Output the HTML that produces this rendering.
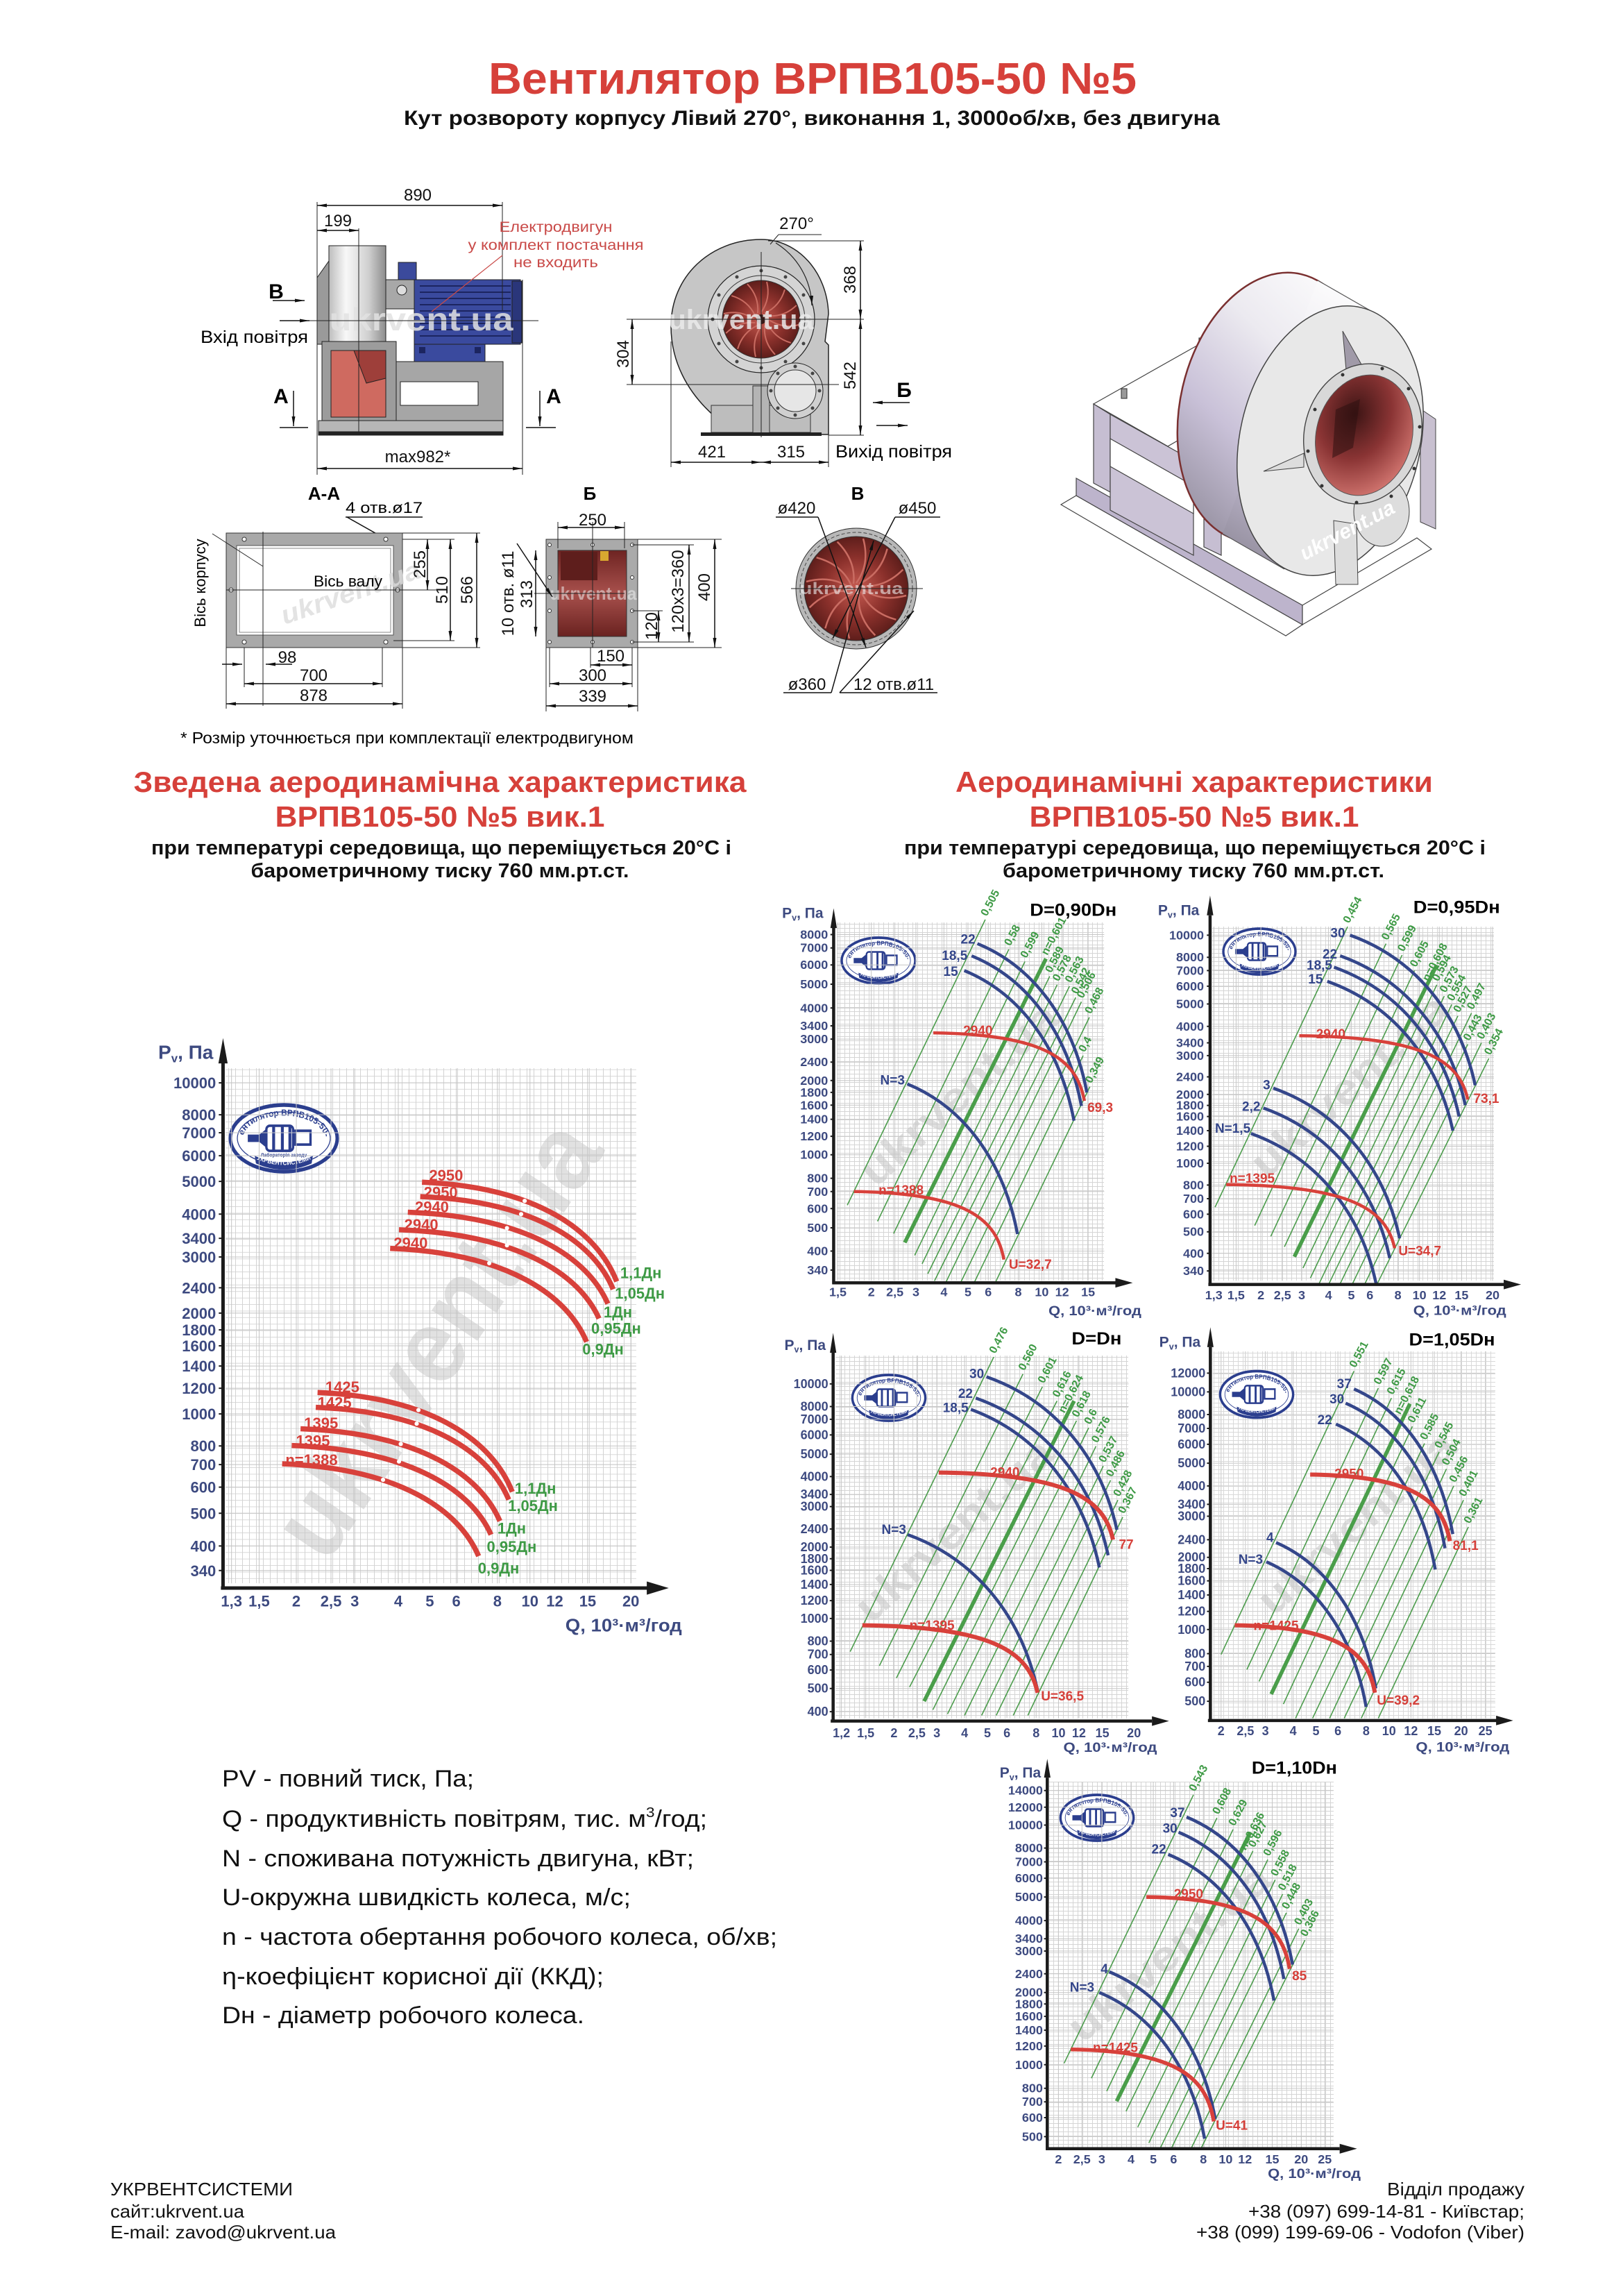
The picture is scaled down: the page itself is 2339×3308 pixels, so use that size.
<!DOCTYPE html>
<html><head><meta charset="utf-8"><title>Вентилятор ВРПВ105-50 №5</title>
<style>
html,body{margin:0;padding:0;background:#fff}
svg{display:block;font-family:"Liberation Sans","DejaVu Sans",sans-serif}
.ns{vector-effect:non-scaling-stroke;fill:none}
.yt{fill:#3d4a80;font-weight:bold;text-anchor:end}
.xt{fill:#3d4a80;font-weight:bold;text-anchor:middle}
.ax{fill:#3d4a80;font-weight:bold}
.rd{fill:#d6403a;font-weight:bold}
.gn{fill:#3e9a45;font-weight:bold}
.bu{fill:#34468a;font-weight:bold;text-anchor:end}
.dm{font-size:24px;fill:#111;text-anchor:middle}
.dl{stroke:#111;stroke-width:1.5;fill:none}
.th{stroke:#222;stroke-width:1;fill:none}
.hd{fill:#d6403a;font-weight:bold;text-anchor:middle}
.sb{fill:#111;font-weight:bold;text-anchor:middle}
</style></head><body>
<svg width="2339" height="3308" viewBox="0 0 2339 3308" xmlns="http://www.w3.org/2000/svg">
<defs>
<marker id="ar" viewBox="0 0 14 5" refX="14" refY="2.5" markerWidth="14" markerHeight="5" orient="auto-start-reverse" markerUnits="userSpaceOnUse"><path d="M0 0L14 2.5L0 5z" fill="#111"/></marker>
<pattern id="gL" width="10" height="9.4" patternUnits="userSpaceOnUse"><path d="M9.5 0V9.4M0 9H10" stroke="#d3d3d3" stroke-width="1" fill="none"/></pattern>
<pattern id="gR" width="7" height="6" patternUnits="userSpaceOnUse"><path d="M6.5 0V6M0 5.5H7" stroke="#d5d5d5" stroke-width="1" fill="none"/></pattern>
<linearGradient id="drumG" x1="0" y1="0" x2="1" y2="0"><stop offset="0" stop-color="#bdbdbd"/><stop offset=".3" stop-color="#f8f8f8"/><stop offset=".7" stop-color="#cfcfcf"/><stop offset="1" stop-color="#8d8d8d"/></linearGradient>
<radialGradient id="impG"><stop offset="0" stop-color="#c85c52"/><stop offset=".6" stop-color="#8a302b"/><stop offset="1" stop-color="#5e1e1b"/></radialGradient>
<linearGradient id="redB" x1="0" y1="0" x2="0" y2="1"><stop offset="0" stop-color="#6e2422"/><stop offset=".5" stop-color="#a8504c"/><stop offset="1" stop-color="#6a2220"/></linearGradient>
<linearGradient id="isoD" gradientUnits="userSpaceOnUse" x1="1990" y1="420" x2="1760" y2="800"><stop offset="0" stop-color="#ffffff"/><stop offset=".35" stop-color="#eceaf0"/><stop offset=".65" stop-color="#c9c1d8"/><stop offset="1" stop-color="#8f8a99"/></linearGradient>
<radialGradient id="isoR" cx=".35" cy=".35" r=".75"><stop offset="0" stop-color="#3c1414"/><stop offset=".5" stop-color="#8a3434"/><stop offset="1" stop-color="#d77a74"/></radialGradient>
<path id="stTop" d="M-70 0 A70 36 0 0 1 70 0"/>
<path id="stBot" d="M-48 33 Q0 52 48 33"/>
</defs>
<rect width="2339" height="3308" fill="#fff"/>

<!-- TITLE -->
<text x="1171" y="135" class="hd" font-size="64" textLength="934" lengthAdjust="spacingAndGlyphs">Вентилятор ВРПВ105-50 №5</text>
<text x="1170" y="180" class="sb" font-size="30" textLength="1176" lengthAdjust="spacingAndGlyphs">Кут розвороту корпусу Лівий 270°, виконання 1, 3000об/хв, без двигуна</text>

<!-- SIDE VIEW -->
<g stroke="#222" stroke-width="1">
<polygon points="457,496 457,400 474,376 474,496" fill="#9a9a9a"/>
<rect x="474" y="354" width="82" height="142" fill="url(#drumG)"/>
<rect x="556" y="403" width="46" height="42" fill="#a8a8a8"/>
<circle cx="579" cy="418" r="7" fill="#ddd"/>
<rect x="574" y="378" width="26" height="25" fill="#3b4a9c"/>
<rect x="597" y="403" width="153" height="93" fill="#3a4a9e"/>
<rect x="738" y="405" width="14" height="89" fill="#2a367a"/>
<rect x="597" y="496" width="102" height="25" fill="#3a4a9e"/>
<rect x="464" y="492" width="107" height="116" fill="#9c9c9c"/>
<rect x="477" y="505" width="79" height="96" fill="#cf6a60"/>
<polygon points="510,505 556,505 556,545 528,552" fill="#9e3f3a"/>
<rect x="571" y="521" width="154" height="85" fill="#a6a6a6"/>
<rect x="577" y="550" width="112" height="34" fill="#fff"/>
<rect x="459" y="606" width="266" height="20" fill="#b6b6b6"/>
<rect x="459" y="622" width="266" height="5" fill="#222"/>
</g>
<path d="M605 412H736M605 421H736M605 430H736M605 439H736M605 448H736M605 457H736M605 466H736M605 475H736M605 484H736" stroke="#1c2560" stroke-width="2"/>
<rect x="604" y="500" width="9" height="9" fill="#1c2560"/><rect x="684" y="500" width="9" height="9" fill="#1c2560"/>
<text x="607" y="476" font-size="46" font-weight="bold" fill="#e2e2e2" fill-opacity=".85" text-anchor="middle" textLength="265" lengthAdjust="spacingAndGlyphs">ukrvent.ua</text>
<path class="th" d="M457 291V684M724 291V447M753 403V684M517 329V626M418 462H776"/>
<path class="dl" marker-start="url(#ar)" marker-end="url(#ar)" d="M457 296H724"/>
<path class="dl" marker-start="url(#ar)" marker-end="url(#ar)" d="M457 332H517"/>
<path class="dl" marker-start="url(#ar)" marker-end="url(#ar)" d="M457 675H753"/>
<text x="602" y="289" class="dm">890</text>
<text x="487" y="326" class="dm">199</text>
<text x="602" y="666" class="dm">max982*</text>
<g fill="#c94a48" font-size="21" text-anchor="middle">
<text x="801" y="334" textLength="163" lengthAdjust="spacingAndGlyphs">Електродвигун</text>
<text x="801" y="360" textLength="253" lengthAdjust="spacingAndGlyphs">у комплект постачання</text>
<text x="801" y="385" textLength="122" lengthAdjust="spacingAndGlyphs">не входить</text>
</g>
<path d="M724 368L622 449" stroke="#c94a48" stroke-width="1.2"/>
<text x="398" y="430" font-size="30" font-weight="bold" text-anchor="middle">В</text>
<path class="dl" marker-end="url(#ar)" d="M393 433H439"/>
<path class="dl" marker-end="url(#ar)" d="M403 462H446"/>
<text x="289" y="494" font-size="25" textLength="155" lengthAdjust="spacingAndGlyphs">Вхід повітря</text>
<text x="405" y="581" font-size="30" font-weight="bold" text-anchor="middle">А</text>
<text x="798" y="581" font-size="30" font-weight="bold" text-anchor="middle">А</text>
<path class="dl" marker-end="url(#ar)" d="M423 563V614"/>
<path class="dl" marker-end="url(#ar)" d="M778 563V614"/>
<path class="dl" d="M403 616H444M758 616H801"/>

<!-- FRONT VIEW -->
<path d="M1097,345 C1150,345 1192,392 1194,452 L1189,492 L1194,497 L1194,626 L1036,626 L1030,600 C990,565 967,520 967,470 C967,397 1025,345 1097,345 Z" fill="#c6c6c6" stroke="#222" stroke-width="1.5"/>
<rect x="1025" y="584" width="143" height="39" fill="#bdbdbd" stroke="#333"/>
<circle cx="1097" cy="460" r="77" fill="#d4d4d4" stroke="#222" stroke-width="1.2"/>
<circle cx="1097" cy="460" r="63" fill="none" stroke="#333"/>
<g fill="#444"><circle cx="1097" cy="390" r="2.5"/><circle cx="1132" cy="399" r="2.5"/><circle cx="1158" cy="425" r="2.5"/><circle cx="1167" cy="460" r="2.5"/><circle cx="1158" cy="495" r="2.5"/><circle cx="1132" cy="521" r="2.5"/><circle cx="1097" cy="530" r="2.5"/><circle cx="1062" cy="521" r="2.5"/><circle cx="1036" cy="495" r="2.5"/><circle cx="1027" cy="460" r="2.5"/><circle cx="1036" cy="425" r="2.5"/><circle cx="1062" cy="399" r="2.5"/></g>
<circle cx="1097" cy="460" r="56" fill="url(#impG)" stroke="#333"/>
<g transform="translate(1097 460)" stroke="#c96c62" stroke-width="2" fill="none">
<path d="M0-10Q14-30 8-54"/><path d="M0-10Q14-30 8-54" transform="rotate(30)"/><path d="M0-10Q14-30 8-54" transform="rotate(60)"/><path d="M0-10Q14-30 8-54" transform="rotate(90)"/><path d="M0-10Q14-30 8-54" transform="rotate(120)"/><path d="M0-10Q14-30 8-54" transform="rotate(150)"/><path d="M0-10Q14-30 8-54" transform="rotate(180)"/><path d="M0-10Q14-30 8-54" transform="rotate(210)"/><path d="M0-10Q14-30 8-54" transform="rotate(240)"/><path d="M0-10Q14-30 8-54" transform="rotate(270)"/><path d="M0-10Q14-30 8-54" transform="rotate(300)"/><path d="M0-10Q14-30 8-54" transform="rotate(330)"/>
</g>
<circle cx="1097" cy="460" r="7" fill="#3a1a18"/>
<rect x="1085" y="556" width="24" height="68" fill="#b4b4b4" stroke="#333"/>
<circle cx="1146" cy="563" r="40" fill="#d0d0d0" stroke="#222"/>
<circle cx="1146" cy="563" r="30" fill="#e6e6e6" stroke="#333"/>
<g fill="#444"><circle cx="1146" cy="528" r="2.5"/><circle cx="1171" cy="538" r="2.5"/><circle cx="1181" cy="563" r="2.5"/><circle cx="1171" cy="588" r="2.5"/><circle cx="1146" cy="598" r="2.5"/><circle cx="1121" cy="588" r="2.5"/><circle cx="1111" cy="563" r="2.5"/><circle cx="1121" cy="538" r="2.5"/></g>
<rect x="1010" y="623" width="174" height="5" fill="#222"/>
<path d="M1118 350A110 110 0 0 1 1170 440" stroke="#222" stroke-width="1.2" fill="none" marker-end="url(#ar)"/>
<text x="1068" y="474" font-size="40" font-weight="bold" fill="#eaeaea" fill-opacity=".85" text-anchor="middle" textLength="209" lengthAdjust="spacingAndGlyphs">ukrvent.ua</text>
<path class="th" d="M1097 363V630M903 460H1245M1107 347H1245M903 554H1209M1194 627H1245M967 492V673M1194 627V673M1122 338H1184M1122 338L1110 352"/>
<path class="dl" marker-start="url(#ar)" marker-end="url(#ar)" d="M1240 347V460"/>
<path class="dl" marker-start="url(#ar)" marker-end="url(#ar)" d="M1240 460V627"/>
<path class="dl" marker-start="url(#ar)" marker-end="url(#ar)" d="M911 460V554"/>
<path class="dl" marker-start="url(#ar)" marker-end="url(#ar)" d="M967 666H1097"/>
<path class="dl" marker-start="url(#ar)" marker-end="url(#ar)" d="M1097 666H1194"/>
<text x="1148" y="330" class="dm">270°</text>
<text class="dm" transform="translate(1233 403) rotate(-90)">368</text>
<text class="dm" transform="translate(1233 541) rotate(-90)">542</text>
<text class="dm" transform="translate(906 510) rotate(-90)">304</text>
<text x="1026" y="659" class="dm">421</text>
<text x="1140" y="659" class="dm">315</text>
<text x="1204" y="659" font-size="25" textLength="168" lengthAdjust="spacingAndGlyphs">Вихід повітря</text>
<text x="1303" y="572" font-size="30" font-weight="bold" text-anchor="middle">Б</text>
<path class="dl" marker-end="url(#ar)" d="M1311 580H1258"/>
<path class="dl" marker-end="url(#ar)" d="M1263 613H1308"/>

<!-- ISOMETRIC -->
<g stroke="#444" stroke-width="1.2">
<polygon points="1529,727 1853,916 1877,900 1551,714" fill="#fff"/>
<polygon points="1551,689 1877,872 1877,900 1551,714" fill="#bdb4cc"/>
<polygon points="1877,872 2042,775 2063,791 1877,900" fill="#fff"/>
<polygon points="1576,582 1732,494 1839,553 1683,643" fill="#fff"/>
<polygon points="1576,582 1600,597 1600,709 1576,696" fill="#c6bed2"/>
<polygon points="1600,597 1720,664 1720,800 1600,735" fill="#cbc3d6"/>
<polygon points="1600,632 1720,700 1720,740 1600,672" fill="#fff"/>
<polygon points="1735,748 1760,760 1760,800 1735,788" fill="#c6bed2"/>
<rect x="1616" y="560" width="8" height="14" fill="#999"/>
<rect x="1728" y="487" width="8" height="14" fill="#999"/>
</g>
<ellipse cx="1831" cy="587" rx="130" ry="197" transform="rotate(13 1831 587)" fill="url(#isoD)" stroke="#7a3030" stroke-width="2.5"/>
<polygon points="1899,404 1988,455 1851,820 1762,769" fill="url(#isoD)"/>
<path d="M1899 404L1988 455M1762 769L1851 820" stroke="#555" stroke-width="1.2"/>
<polygon points="2047,589 2069,604 2069,762 2047,752" fill="#c8c0d0" stroke="#444"/>
<ellipse cx="1917" cy="635" rx="130" ry="197" transform="rotate(13 1917 635)" fill="#e8e8e8" stroke="#444" stroke-width="1.5"/>
<polygon points="1935,477 1962,525 1940,533" fill="#a09aa8" stroke="#444"/>
<polygon points="1821,679 1879,653 1879,673" fill="#ddd" stroke="#444"/>
<ellipse cx="1991" cy="737" rx="40" ry="50" fill="#ddd" stroke="#444"/>
<polygon points="1922,750 1955,755 1957,842 1925,842" fill="#ddd" stroke="#444"/>
<ellipse cx="1964" cy="625" rx="84" ry="102" transform="rotate(15 1964 625)" fill="#d8d8d8" stroke="#444" stroke-width="1.4"/>
<ellipse cx="1966" cy="627" rx="69" ry="88" transform="rotate(15 1966 627)" fill="url(#isoR)" stroke="#555"/>
<polygon points="1925,590 1960,575 1950,645 1920,660" fill="#2e1010" fill-opacity=".55"/>
<g fill="#333"><circle cx="1992" cy="531" r="2.5"/><circle cx="2030" cy="560" r="2.5"/><circle cx="2046" cy="615" r="2.5"/><circle cx="2038" cy="675" r="2.5"/><circle cx="2005" cy="715" r="2.5"/><circle cx="1955" cy="724" r="2.5"/><circle cx="1905" cy="700" r="2.5"/><circle cx="1885" cy="650" r="2.5"/><circle cx="1895" cy="590" r="2.5"/><circle cx="1935" cy="540" r="2.5"/></g>
<text transform="translate(1880 808) rotate(-28)" font-size="30" font-weight="bold" font-style="italic" fill="#fff" textLength="150" lengthAdjust="spacingAndGlyphs">ukrvent.ua</text>

<!-- SECTION A-A -->
<text x="467" y="720" font-size="26" font-weight="bold" text-anchor="middle">А-А</text>
<text x="498" y="739" font-size="22" textLength="111" lengthAdjust="spacingAndGlyphs">4 отв.ø17</text>
<path class="dl" d="M498 745H609"/>
<path class="dl" marker-end="url(#ar)" d="M500 745L578 789"/>
<rect x="326" y="768" width="254" height="165" fill="#a9a9a9" stroke="#333"/>
<rect x="341" y="786" width="226" height="129" fill="#fff" stroke="#555"/>
<rect x="345" y="790" width="218" height="121" fill="none" stroke="#888"/>
<g fill="#fff" stroke="#333"><circle cx="352" cy="777" r="3"/><circle cx="556" cy="777" r="3"/><circle cx="352" cy="925" r="3"/><circle cx="556" cy="925" r="3"/><circle cx="333" cy="850" r="3"/><circle cx="573" cy="850" r="3"/></g>
<text transform="translate(410 900) rotate(-19)" font-size="38" font-weight="bold" font-style="italic" fill="#dcdcdc" fill-opacity=".8" textLength="210" lengthAdjust="spacingAndGlyphs">ukrvent.ua</text>
<text transform="translate(296 840) rotate(-90)" font-size="22" text-anchor="middle">Вісь корпусу</text>
<path class="th" d="M306 769L379 816M379 766V1017M326 850H628"/>
<text x="452" y="845" font-size="22" textLength="99" lengthAdjust="spacingAndGlyphs">Вісь валу</text>
<path class="th" d="M580 777H655M580 768H692M567 923H655M580 933H692M326 933V1021M352 933V990M551 933V990M580 933V1021"/>
<path class="dl" marker-start="url(#ar)" marker-end="url(#ar)" d="M616 777V850"/>
<path class="dl" marker-start="url(#ar)" marker-end="url(#ar)" d="M649 777V923"/>
<path class="dl" marker-start="url(#ar)" marker-end="url(#ar)" d="M687 768V933"/>
<text class="dm" transform="translate(613 813) rotate(-90)">255</text>
<text class="dm" transform="translate(645 850) rotate(-90)">510</text>
<text class="dm" transform="translate(681 850) rotate(-90)">566</text>
<path class="dl" marker-end="url(#ar)" d="M320 957H349"/>
<path class="dl" marker-end="url(#ar)" d="M421 957H383"/>
<path class="dl" marker-start="url(#ar)" marker-end="url(#ar)" d="M352 985H551"/>
<path class="dl" marker-start="url(#ar)" marker-end="url(#ar)" d="M326 1014H580"/>
<text x="414" y="955" class="dm">98</text>
<text x="452" y="981" class="dm">700</text>
<text x="452" y="1010" class="dm">878</text>

<!-- SECTION Б -->
<text x="850" y="720" font-size="26" font-weight="bold" text-anchor="middle">Б</text>
<rect x="787" y="777" width="132" height="156" fill="#aaa" stroke="#333"/>
<rect x="804" y="793" width="99" height="124" fill="url(#redB)" stroke="#333"/>
<rect x="808" y="795" width="53" height="41" fill="#5e1e1c"/>
<rect x="865" y="794" width="12" height="14" fill="#d9a830"/>
<g fill="#fff" stroke="#333"><circle cx="792" cy="785" r="2.5"/><circle cx="854" cy="785" r="2.5"/><circle cx="911" cy="785" r="2.5"/><circle cx="792" cy="925" r="2.5"/><circle cx="854" cy="925" r="2.5"/><circle cx="911" cy="925" r="2.5"/><circle cx="911" cy="832" r="2.5"/><circle cx="911" cy="880" r="2.5"/><circle cx="792" cy="832" r="2.5"/><circle cx="792" cy="880" r="2.5"/></g>
<text x="855" y="864" font-size="26" font-weight="bold" fill="#eee" fill-opacity=".55" text-anchor="middle" textLength="125" lengthAdjust="spacingAndGlyphs">ukrvent.ua</text>
<path class="th" d="M854 752V933M770 855H900M804 752V790M900 752V790M919 777H1040M911 785H1000M911 925H1000M919 933H1040M911 880H955M787 933V1025M792 933V990M911 933V990M919 933V1025M851 933V962"/>
<path class="dl" marker-end="url(#ar)" d="M745 783L796 860"/>
<text class="dm" font-size="22" transform="translate(740 855) rotate(-90)">10 отв. ø11</text>
<text class="dm" transform="translate(767 856) rotate(-90)">313</text>
<text class="dm" transform="translate(985 852) rotate(-90)">120x3=360</text>
<text class="dm" transform="translate(1023 846) rotate(-90)">400</text>
<text class="dm" transform="translate(947 902) rotate(-90)">120</text>
<path class="dl" marker-start="url(#ar)" marker-end="url(#ar)" d="M804 760H900"/>
<path class="dl" marker-start="url(#ar)" marker-end="url(#ar)" d="M772 793V917"/>
<path class="dl" marker-start="url(#ar)" marker-end="url(#ar)" d="M993 785V925"/>
<path class="dl" marker-start="url(#ar)" marker-end="url(#ar)" d="M1030 777V933"/>
<path class="dl" marker-start="url(#ar)" marker-end="url(#ar)" d="M949 880V925"/>
<path class="dl" marker-start="url(#ar)" marker-end="url(#ar)" d="M851 958H911"/>
<path class="dl" marker-start="url(#ar)" marker-end="url(#ar)" d="M792 985H911"/>
<path class="dl" marker-start="url(#ar)" marker-end="url(#ar)" d="M787 1017H919"/>
<text x="854" y="757" class="dm">250</text>
<text x="880" y="953" class="dm">150</text>
<text x="854" y="981" class="dm">300</text>
<text x="854" y="1011" class="dm">339</text>

<!-- SECTION В -->
<text x="1236" y="720" font-size="26" font-weight="bold" text-anchor="middle">В</text>
<circle cx="1234" cy="848" r="87" fill="#b8b8b8" stroke="#333"/>
<circle cx="1234" cy="848" r="81" fill="none" stroke="#444" stroke-dasharray="5 3"/>
<circle cx="1234" cy="848" r="75" fill="url(#impG)" stroke="#333"/>
<g transform="translate(1234 848)" stroke="#c96c62" stroke-width="2.5" fill="none">
<path d="M0-8Q20-35 10-72"/><path d="M0-8Q20-35 10-72" transform="rotate(30)"/><path d="M0-8Q20-35 10-72" transform="rotate(60)"/><path d="M0-8Q20-35 10-72" transform="rotate(90)"/><path d="M0-8Q20-35 10-72" transform="rotate(120)"/><path d="M0-8Q20-35 10-72" transform="rotate(150)"/><path d="M0-8Q20-35 10-72" transform="rotate(180)"/><path d="M0-8Q20-35 10-72" transform="rotate(210)"/><path d="M0-8Q20-35 10-72" transform="rotate(240)"/><path d="M0-8Q20-35 10-72" transform="rotate(270)"/><path d="M0-8Q20-35 10-72" transform="rotate(300)"/><path d="M0-8Q20-35 10-72" transform="rotate(330)"/>
</g>
<text x="1227" y="856" font-size="24" font-weight="bold" fill="#eee" fill-opacity=".6" text-anchor="middle" textLength="149" lengthAdjust="spacingAndGlyphs">ukrvent.ua</text>
<path class="th" d="M1140 848H1330"/>
<text x="1148" y="740" class="dm">ø420</text>
<text x="1322" y="740" class="dm">ø450</text>
<text x="1163" y="994" class="dm">ø360</text>
<text x="1288" y="994" class="dm">12 отв.ø11</text>
<path class="dl" d="M1118 745H1179M1290 745H1355M1129 998H1198M1210 998H1351"/>
<path class="dl" marker-end="url(#ar)" d="M1179 745L1248 933"/>
<path class="dl" marker-end="url(#ar)" d="M1290 745L1200 920"/>
<path class="dl" marker-end="url(#ar)" d="M1198 998L1259 779"/>
<path class="dl" marker-end="url(#ar)" d="M1210 998L1317 880"/>
<text x="260" y="1071" font-size="23" textLength="653" lengthAdjust="spacingAndGlyphs">* Розмір уточнюється при комплектації електродвигуном</text>

<!-- HEADINGS -->
<text x="634" y="1141" class="hd" font-size="42" textLength="883" lengthAdjust="spacingAndGlyphs">Зведена аеродинамічна характеристика</text>
<text x="634" y="1191" class="hd" font-size="42" textLength="475" lengthAdjust="spacingAndGlyphs">ВРПВ105-50 №5 вик.1</text>
<text x="636" y="1231" class="sb" font-size="29" textLength="836" lengthAdjust="spacingAndGlyphs">при температурі середовища, що переміщується 20°С і</text>
<text x="634" y="1264" class="sb" font-size="29" textLength="545" lengthAdjust="spacingAndGlyphs">барометричному тиску 760 мм.рт.ст.</text>
<text x="1721" y="1141" class="hd" font-size="42" textLength="688" lengthAdjust="spacingAndGlyphs">Аеродинамічні характеристики</text>
<text x="1721" y="1191" class="hd" font-size="42" textLength="475" lengthAdjust="spacingAndGlyphs">ВРПВ105-50 №5 вик.1</text>
<text x="1722" y="1231" class="sb" font-size="29" textLength="838" lengthAdjust="spacingAndGlyphs">при температурі середовища, що переміщується 20°С і</text>
<text x="1720" y="1264" class="sb" font-size="29" textLength="550" lengthAdjust="spacingAndGlyphs">барометричному тиску 760 мм.рт.ст.</text>

<!-- ============ CHART L ============ -->
<rect x="325" y="1539" width="592" height="742" fill="url(#gL)"/>
<text transform="translate(470 2255) rotate(-56)" font-size="150" font-weight="bold" fill="#c8c8c8" fill-opacity=".55" textLength="720" lengthAdjust="spacingAndGlyphs">ukrvent.ua</text>
<g transform="translate(409 1640) scale(.837 .906)">
<ellipse rx="92" ry="53" fill="#fff" stroke="#2b3e8e" stroke-width="6"/>
<ellipse rx="80" ry="42" fill="none" stroke="#2b3e8e" stroke-width="1.5"/>
<text font-size="14" fill="#2b3e8e" font-weight="bold"><textPath href="#stTop" startOffset="50%" text-anchor="middle">Вентилятор ВРПВ105-50-5</textPath></text>
<path d="M-62 -6h20l12-9v30l-12-9h-20z" fill="#2b3e8e"/>
<rect x="-30" y="-20" width="46" height="40" rx="6" fill="#fff" stroke="#2b3e8e" stroke-width="4"/>
<rect x="-20" y="-20" width="5" height="40" fill="#2b3e8e"/><rect x="-5" y="-20" width="5" height="40" fill="#2b3e8e"/><rect x="8" y="-20" width="5" height="40" fill="#2b3e8e"/>
<rect x="20" y="-12" width="26" height="22" fill="#fff" stroke="#2b3e8e" stroke-width="4"/>
<text y="29" font-size="8" fill="#2b3e8e" font-weight="bold" text-anchor="middle">Лабораторія заводу</text>
<path d="M-50 28 Q0 48 50 28 L48 40 Q0 60 -48 40Z" fill="#2b3e8e"/>
<text font-size="10" fill="#fff" font-weight="bold"><textPath href="#stBot" startOffset="50%" text-anchor="middle">УКРВЕНТСИСТЕМИ</textPath></text>
</g>
<g transform="translate(200 1490) scale(.5102 .5612)">
<path class="ns" stroke="#c4c4c4" stroke-width="1" d="M262 88V1410M340 88V1410M445 88V1410M543 88V1410M610 88V1410M733 88V1410M822 88V1410M897 88V1410M1013 88V1410M1105 88V1410M1175 88V1410M1268 88V1410M1390 88V1410M245 125H1405M245 207H1405M245 253H1405M245 312H1405M245 378H1405M245 462H1405M245 524H1405M245 572H1405M245 651H1405M245 716H1405M245 759H1405M245 800H1405M245 852H1405M245 909H1405M245 975H1405M245 1057H1405M245 1105H1405M245 1163H1405M245 1230H1405M245 1314H1405M245 1377H1405"/>
<path class="ns" stroke="#d8413b" stroke-width="7.5" d="M800 380C1130 392.75 1295 507.5 1350 635"/>
<path class="ns" stroke="#d8413b" stroke-width="7.5" d="M795 417C1122 428.9 1285.5 536 1340 655"/>
<path class="ns" stroke="#d8413b" stroke-width="7.5" d="M760 457C1099 468.75 1268.5 574.5 1325 692"/>
<path class="ns" stroke="#d8413b" stroke-width="7.5" d="M735 502C1074 513.4 1243.5 616 1300 730"/>
<path class="ns" stroke="#d8413b" stroke-width="7.5" d="M710 550C1043 562 1209.5 670 1265 790"/>
<path class="ns" stroke="#d8413b" stroke-width="7.5" d="M505 920C835 932.75 1000 1047.5 1055 1175"/>
<path class="ns" stroke="#d8413b" stroke-width="7.5" d="M500 958C827 969.85 990.5 1076.5 1045 1195"/>
<path class="ns" stroke="#d8413b" stroke-width="7.5" d="M457 1013C794.8 1024.85 963.7 1131.5 1020 1250"/>
<path class="ns" stroke="#d8413b" stroke-width="7.5" d="M432 1056C769.8 1067.45 938.7 1170.5 995 1285"/>
<path class="ns" stroke="#d8413b" stroke-width="7.5" d="M405 1103C738 1114.85 904.5 1221.5 960 1340"/>
<g fill="#fff"><ellipse cx="1090" cy="428" rx="6" ry="5.5"/><ellipse cx="1080" cy="462" rx="6" ry="5.5"/><ellipse cx="1040" cy="498" rx="6" ry="5.5"/><ellipse cx="1040" cy="542" rx="6" ry="5.5"/><ellipse cx="990" cy="588" rx="6" ry="5.5"/><ellipse cx="790" cy="965" rx="6" ry="5.5"/><ellipse cx="785" cy="1000" rx="6" ry="5.5"/><ellipse cx="740" cy="1052" rx="6" ry="5.5"/><ellipse cx="735" cy="1097" rx="6" ry="5.5"/><ellipse cx="690" cy="1144" rx="6" ry="5.5"/></g>
<path class="ns" stroke="#1b1b1b" stroke-width="5" d="M238 1425V72M232 1422H1440"/>
<polygon points="238,10 225,75 251,75" fill="#1b1b1b"/>
<polygon points="1497,1422 1435,1405 1435,1439" fill="#1b1b1b"/>
<path class="ns" stroke="#1b1b1b" stroke-width="2" d="M226 125H238M226 207H238M226 253H238M226 312H238M226 378H238M226 462H238M226 524H238M226 572H238M226 651H238M226 716H238M226 759H238M226 800H238M226 852H238M226 909H238M226 975H238M226 1057H238M226 1105H238M226 1163H238M226 1230H238M226 1314H238M226 1377H238"/>
<g font-size="22">
<text class="yt" transform="translate(218 125) scale(1.96 1.782)" y="8">10000</text>
<text class="yt" transform="translate(218 207) scale(1.96 1.782)" y="8">8000</text>
<text class="yt" transform="translate(218 253) scale(1.96 1.782)" y="8">7000</text>
<text class="yt" transform="translate(218 312) scale(1.96 1.782)" y="8">6000</text>
<text class="yt" transform="translate(218 378) scale(1.96 1.782)" y="8">5000</text>
<text class="yt" transform="translate(218 462) scale(1.96 1.782)" y="8">4000</text>
<text class="yt" transform="translate(218 524) scale(1.96 1.782)" y="8">3400</text>
<text class="yt" transform="translate(218 572) scale(1.96 1.782)" y="8">3000</text>
<text class="yt" transform="translate(218 651) scale(1.96 1.782)" y="8">2400</text>
<text class="yt" transform="translate(218 716) scale(1.96 1.782)" y="8">2000</text>
<text class="yt" transform="translate(218 759) scale(1.96 1.782)" y="8">1800</text>
<text class="yt" transform="translate(218 800) scale(1.96 1.782)" y="8">1600</text>
<text class="yt" transform="translate(218 852) scale(1.96 1.782)" y="8">1400</text>
<text class="yt" transform="translate(218 909) scale(1.96 1.782)" y="8">1200</text>
<text class="yt" transform="translate(218 975) scale(1.96 1.782)" y="8">1000</text>
<text class="yt" transform="translate(218 1057) scale(1.96 1.782)" y="8">800</text>
<text class="yt" transform="translate(218 1105) scale(1.96 1.782)" y="8">700</text>
<text class="yt" transform="translate(218 1163) scale(1.96 1.782)" y="8">600</text>
<text class="yt" transform="translate(218 1230) scale(1.96 1.782)" y="8">500</text>
<text class="yt" transform="translate(218 1314) scale(1.96 1.782)" y="8">400</text>
<text class="yt" transform="translate(218 1377) scale(1.96 1.782)" y="8">340</text>
<text class="xt" transform="translate(262 1455) scale(1.96 1.782)" y="8">1,3</text>
<text class="xt" transform="translate(340 1455) scale(1.96 1.782)" y="8">1,5</text>
<text class="xt" transform="translate(445 1455) scale(1.96 1.782)" y="8">2</text>
<text class="xt" transform="translate(543 1455) scale(1.96 1.782)" y="8">2,5</text>
<text class="xt" transform="translate(610 1455) scale(1.96 1.782)" y="8">3</text>
<text class="xt" transform="translate(733 1455) scale(1.96 1.782)" y="8">4</text>
<text class="xt" transform="translate(822 1455) scale(1.96 1.782)" y="8">5</text>
<text class="xt" transform="translate(897 1455) scale(1.96 1.782)" y="8">6</text>
<text class="xt" transform="translate(1013 1455) scale(1.96 1.782)" y="8">8</text>
<text class="xt" transform="translate(1105 1455) scale(1.96 1.782)" y="8">10</text>
<text class="xt" transform="translate(1175 1455) scale(1.96 1.782)" y="8">12</text>
<text class="xt" transform="translate(1268 1455) scale(1.96 1.782)" y="8">15</text>
<text class="xt" transform="translate(1390 1455) scale(1.96 1.782)" y="8">20</text>
<text class="rd" text-anchor="middle" transform="translate(868 362) scale(1.96 1.782)" y="8">2950</text>
<text class="rd" text-anchor="middle" transform="translate(853 405) scale(1.96 1.782)" y="8">2950</text>
<text class="rd" text-anchor="middle" transform="translate(828 443) scale(1.96 1.782)" y="8">2940</text>
<text class="rd" text-anchor="middle" transform="translate(798 488) scale(1.96 1.782)" y="8">2940</text>
<text class="rd" text-anchor="middle" transform="translate(768 535) scale(1.96 1.782)" y="8">2940</text>
<text class="rd" text-anchor="middle" transform="translate(575 905) scale(1.96 1.782)" y="8">1425</text>
<text class="rd" text-anchor="middle" transform="translate(553 945) scale(1.96 1.782)" y="8">1425</text>
<text class="rd" text-anchor="middle" transform="translate(515 998) scale(1.96 1.782)" y="8">1395</text>
<text class="rd" text-anchor="middle" transform="translate(492 1043) scale(1.96 1.782)" y="8">1395</text>
<text class="rd" text-anchor="middle" transform="translate(488 1092) scale(1.96 1.782)" y="8">n=1388</text>
<text class="gn" transform="translate(1360 612) scale(1.96 1.782)" y="8">1,1Дн</text>
<text class="gn" transform="translate(1345 665) scale(1.96 1.782)" y="8">1,05Дн</text>
<text class="gn" transform="translate(1313 713) scale(1.96 1.782)" y="8">1Дн</text>
<text class="gn" transform="translate(1278 755) scale(1.96 1.782)" y="8">0,95Дн</text>
<text class="gn" transform="translate(1253 808) scale(1.96 1.782)" y="8">0,9Дн</text>
<text class="gn" transform="translate(1062 1165) scale(1.96 1.782)" y="8">1,1Дн</text>
<text class="gn" transform="translate(1043 1210) scale(1.96 1.782)" y="8">1,05Дн</text>
<text class="gn" transform="translate(1013 1268) scale(1.96 1.782)" y="8">1Дн</text>
<text class="gn" transform="translate(983 1315) scale(1.96 1.782)" y="8">0,95Дн</text>
<text class="gn" transform="translate(958 1370) scale(1.96 1.782)" y="8">0,9Дн</text>
</g>
<text class="ax" font-size="28" transform="translate(55 45) scale(1.96 1.782)" y="10">P<tspan font-size="60%" dy="5">v</tspan><tspan dy="-5">, Па</tspan></text>
<text class="ax" font-size="26" transform="translate(1205 1517) scale(1.96 1.782)" y="9" textLength="168" lengthAdjust="spacingAndGlyphs">Q, 10³·м³/год</text>
</g>

<!-- ============ CHART R1 D=0,90 ============ -->
<rect x="1206" y="1329" width="385" height="516" fill="url(#gR)"/>
<text transform="translate(1262 1712) rotate(-42)" font-size="62" font-weight="bold" fill="#c8c8c8" fill-opacity=".6" textLength="360" lengthAdjust="spacingAndGlyphs">ukrvent.ua</text>
<g transform="translate(1266 1384) scale(.576 .623)">
<ellipse rx="92" ry="53" fill="#fff" stroke="#2b3e8e" stroke-width="6"/>
<ellipse rx="80" ry="42" fill="none" stroke="#2b3e8e" stroke-width="1.5"/>
<text font-size="14" fill="#2b3e8e" font-weight="bold"><textPath href="#stTop" startOffset="50%" text-anchor="middle">Вентилятор ВРПВ105-50-5</textPath></text>
<path d="M-62 -6h20l12-9v30l-12-9h-20z" fill="#2b3e8e"/>
<rect x="-30" y="-20" width="46" height="40" rx="6" fill="#fff" stroke="#2b3e8e" stroke-width="4"/>
<rect x="-20" y="-20" width="5" height="40" fill="#2b3e8e"/><rect x="-5" y="-20" width="5" height="40" fill="#2b3e8e"/><rect x="8" y="-20" width="5" height="40" fill="#2b3e8e"/>
<rect x="20" y="-12" width="26" height="22" fill="#fff" stroke="#2b3e8e" stroke-width="4"/>
<path d="M-50 28 Q0 48 50 28 L48 40 Q0 60 -48 40Z" fill="#2b3e8e"/>
<text font-size="10" fill="#fff" font-weight="bold"><textPath href="#stBot" startOffset="50%" text-anchor="middle">УКРВЕНТСИСТЕМИ</textPath></text>
</g>
<g transform="translate(1120 1280) scale(.3571 .4082)">
<path class="ns" stroke="#c6c6c6" stroke-width="1" d="M245 120V1385M380 120V1385M475 120V1385M560 120V1385M673 120V1385M770 120V1385M852 120V1385M973 120V1385M1068 120V1385M1150 120V1385M1255 120V1385M240 163H1320M240 210H1320M240 270H1320M240 338H1320M240 422H1320M240 485H1320M240 532H1320M240 613H1320M240 678H1320M240 720H1320M240 765H1320M240 815H1320M240 875H1320M240 940H1320M240 1023H1320M240 1070H1320M240 1130H1320M240 1198H1320M240 1280H1320M240 1347H1320"/>
<path class="ns" stroke="#4c9c4c" stroke-width="1.6" d="M283 1118L840 110M405 1175L935 215M470 1218L1000 258M555 1295L1100 310M585 1325L1130 340M608 1360L1180 345M635 1385L1205 385M680 1392L1228 400M740 1392L1260 455M795 1392L1235 590M880 1392L1262 700"/>
<path class="ns" stroke="#4a9e4a" stroke-width="5.5" d="M515 1250L1085 248"/>
<path class="ns" stroke="#34468a" stroke-width="4.5" d="M808 195C1029 274 1193 458 1250 720M785 238C1006.5 317.5 1170 503 1228 768M755 290C976.5 369.5 1140 555 1198 820M525 690C747.5 769.5 912 955 970 1220"/>
<path class="ns" stroke="#d8413b" stroke-width="4.5" d="M630 510C1087.5 514.8 1209.5 606 1240 750M310 1070C763.75 1074.8 884.75 1166 915 1310"/>
<path class="ns" stroke="#1b1b1b" stroke-width="4.5" d="M228 1395V130M222 1392H1380"/>
<polygon points="228,70 215,140 241,140" fill="#1b1b1b"/>
<polygon points="1435,1392 1365,1375 1365,1409" fill="#1b1b1b"/>
<path class="ns" stroke="#1b1b1b" stroke-width="2" d="M215 163H228M215 210H228M215 270H228M215 338H228M215 422H228M215 485H228M215 532H228M215 613H228M215 678H228M215 720H228M215 765H228M215 815H228M215 875H228M215 940H228M215 1023H228M215 1070H228M215 1130H228M215 1198H228M215 1280H228M215 1347H228"/>
<g font-size="18">
<text class="yt" transform="translate(205 163) scale(2.8 2.45)" y="6">8000</text>
<text class="yt" transform="translate(205 210) scale(2.8 2.45)" y="6">7000</text>
<text class="yt" transform="translate(205 270) scale(2.8 2.45)" y="6">6000</text>
<text class="yt" transform="translate(205 338) scale(2.8 2.45)" y="6">5000</text>
<text class="yt" transform="translate(205 422) scale(2.8 2.45)" y="6">4000</text>
<text class="yt" transform="translate(205 485) scale(2.8 2.45)" y="6">3400</text>
<text class="yt" transform="translate(205 532) scale(2.8 2.45)" y="6">3000</text>
<text class="yt" transform="translate(205 613) scale(2.8 2.45)" y="6">2400</text>
<text class="yt" transform="translate(205 678) scale(2.8 2.45)" y="6">2000</text>
<text class="yt" transform="translate(205 720) scale(2.8 2.45)" y="6">1800</text>
<text class="yt" transform="translate(205 765) scale(2.8 2.45)" y="6">1600</text>
<text class="yt" transform="translate(205 815) scale(2.8 2.45)" y="6">1400</text>
<text class="yt" transform="translate(205 875) scale(2.8 2.45)" y="6">1200</text>
<text class="yt" transform="translate(205 940) scale(2.8 2.45)" y="6">1000</text>
<text class="yt" transform="translate(205 1023) scale(2.8 2.45)" y="6">800</text>
<text class="yt" transform="translate(205 1070) scale(2.8 2.45)" y="6">700</text>
<text class="yt" transform="translate(205 1130) scale(2.8 2.45)" y="6">600</text>
<text class="yt" transform="translate(205 1198) scale(2.8 2.45)" y="6">500</text>
<text class="yt" transform="translate(205 1280) scale(2.8 2.45)" y="6">400</text>
<text class="yt" transform="translate(205 1347) scale(2.8 2.45)" y="6">340</text>
<text class="xt" transform="translate(245 1425) scale(2.8 2.45)" y="6">1,5</text>
<text class="xt" transform="translate(380 1425) scale(2.8 2.45)" y="6">2</text>
<text class="xt" transform="translate(475 1425) scale(2.8 2.45)" y="6">2,5</text>
<text class="xt" transform="translate(560 1425) scale(2.8 2.45)" y="6">3</text>
<text class="xt" transform="translate(673 1425) scale(2.8 2.45)" y="6">4</text>
<text class="xt" transform="translate(770 1425) scale(2.8 2.45)" y="6">5</text>
<text class="xt" transform="translate(852 1425) scale(2.8 2.45)" y="6">6</text>
<text class="xt" transform="translate(973 1425) scale(2.8 2.45)" y="6">8</text>
<text class="xt" transform="translate(1068 1425) scale(2.8 2.45)" y="6">10</text>
<text class="xt" transform="translate(1150 1425) scale(2.8 2.45)" y="6">12</text>
<text class="xt" transform="translate(1255 1425) scale(2.8 2.45)" y="6">15</text>
</g>
<g font-size="16">
<text class="gn" transform="translate(846 100) scale(2.8 2.45) rotate(-62)">0,505</text>
<text class="gn" transform="translate(941 205) scale(2.8 2.45) rotate(-62)">0,58</text>
<text class="gn" transform="translate(1006 248) scale(2.8 2.45) rotate(-62)">0,599</text>
<text class="gn" transform="translate(1090 238) scale(2.8 2.45) rotate(-62)">n=0,601</text>
<text class="gn" transform="translate(1106 300) scale(2.8 2.45) rotate(-62)">0,589</text>
<text class="gn" transform="translate(1136 330) scale(2.8 2.45) rotate(-62)">0,578</text>
<text class="gn" transform="translate(1186 335) scale(2.8 2.45) rotate(-62)">0,563</text>
<text class="gn" transform="translate(1211 375) scale(2.8 2.45) rotate(-62)">0,542</text>
<text class="gn" transform="translate(1234 390) scale(2.8 2.45) rotate(-62)">0,506</text>
<text class="gn" transform="translate(1266 445) scale(2.8 2.45) rotate(-62)">0,468</text>
<text class="gn" transform="translate(1241 580) scale(2.8 2.45) rotate(-62)">0,4</text>
<text class="gn" transform="translate(1268 690) scale(2.8 2.45) rotate(-62)">0,349</text>
</g>
<g font-size="19">
<text class="bu" transform="translate(800 178) scale(2.8 2.45)" y="7">22</text>
<text class="bu" transform="translate(768 235) scale(2.8 2.45)" y="7">18,5</text>
<text class="bu" transform="translate(730 292) scale(2.8 2.45)" y="7">15</text>
<text class="bu" transform="translate(515 675) scale(2.8 2.45)" y="7">N=3</text>
<text class="rd" text-anchor="middle" transform="translate(810 500) scale(2.8 2.45)" y="7">2940</text>
<text class="rd" text-anchor="middle" transform="translate(500 1063) scale(2.8 2.45)" y="7">n=1388</text>
<text class="rd" transform="translate(1252 772) scale(2.8 2.45)" y="7">69,3</text>
<text class="rd" transform="translate(935 1325) scale(2.8 2.45)" y="7">U=32,7</text>
</g>
<text class="ax" font-size="21" transform="translate(20 85) scale(2.8 2.45)" y="8">P<tspan font-size="60%" dy="4">v</tspan><tspan dy="-4">, Па</tspan></text>
<text font-size="25" font-weight="bold" transform="translate(1020 75) scale(2.8 2.45)" y="9" textLength="125" lengthAdjust="spacingAndGlyphs">D=0,90Dн</text>
<text class="ax" font-size="19" transform="translate(1095 1490) scale(2.8 2.45)" y="7" textLength="134" lengthAdjust="spacingAndGlyphs">Q, 10³·м³/год</text>
</g>

<!-- ============ CHART R2 D=0,95 ============ -->
<rect x="1747" y="1335" width="406" height="510" fill="url(#gR)"/>
<text transform="translate(1825 1700) rotate(-42)" font-size="62" font-weight="bold" fill="#c8c8c8" fill-opacity=".6" textLength="360" lengthAdjust="spacingAndGlyphs">ukrvent.ua</text>
<g transform="translate(1815 1371) scale(.565 .623)">
<ellipse rx="92" ry="53" fill="#fff" stroke="#2b3e8e" stroke-width="6"/>
<ellipse rx="80" ry="42" fill="none" stroke="#2b3e8e" stroke-width="1.5"/>
<text font-size="14" fill="#2b3e8e" font-weight="bold"><textPath href="#stTop" startOffset="50%" text-anchor="middle">Вентилятор ВРПВ105-50-5</textPath></text>
<path d="M-62 -6h20l12-9v30l-12-9h-20z" fill="#2b3e8e"/>
<rect x="-30" y="-20" width="46" height="40" rx="6" fill="#fff" stroke="#2b3e8e" stroke-width="4"/>
<rect x="-20" y="-20" width="5" height="40" fill="#2b3e8e"/><rect x="-5" y="-20" width="5" height="40" fill="#2b3e8e"/><rect x="8" y="-20" width="5" height="40" fill="#2b3e8e"/>
<rect x="20" y="-12" width="26" height="22" fill="#fff" stroke="#2b3e8e" stroke-width="4"/>
<path d="M-50 28 Q0 48 50 28 L48 40 Q0 60 -48 40Z" fill="#2b3e8e"/>
<text font-size="10" fill="#fff" font-weight="bold"><textPath href="#stBot" startOffset="50%" text-anchor="middle">УКРВЕНТСИСТЕМИ</textPath></text>
</g>
<g transform="translate(1660 1280) scale(.3571 .4082)">
<path class="ns" stroke="#c6c6c6" stroke-width="1" d="M250 135V1385M340 135V1385M440 135V1385M527 135V1385M605 135V1385M713 135V1385M805 135V1385M880 135V1385M993 135V1385M1080 135V1385M1160 135V1385M1250 135V1385M1375 135V1385M245 165H1380M245 243H1380M245 290H1380M245 345H1380M245 408H1380M245 487H1380M245 545H1380M245 590H1380M245 665H1380M245 727H1380M245 766H1380M245 805H1380M245 855H1380M245 910H1380M245 970H1380M245 1047H1380M245 1095H1380M245 1150H1380M245 1212H1380M245 1288H1380M245 1350H1380"/>
<path class="ns" stroke="#4c9c4c" stroke-width="1.6" d="M255 1125L790 135M415 1190L945 195M480 1228L1010 235M535 1265L1060 290M610 1340L1150 340M640 1375L1180 380M675 1395L1210 410M715 1395L1235 450M760 1395L1290 440M810 1395L1275 550M860 1395L1330 545M910 1395L1360 600"/>
<path class="ns" stroke="#4a9e4a" stroke-width="5.5" d="M575 1300L1150 270"/>
<path class="ns" stroke="#34468a" stroke-width="4.5" d="M800 165C1052.5 244.5 1239.4 430 1305 695M760 238C1012.5 317 1199.4 501.5 1265 765M735 278C987.5 357 1174.4 541.5 1240 805M708 328C961.5 407 1149 591.5 1215 855M490 705C745 784.5 933.7 970 1000 1235M450 775C705 854.5 893.7 1040 960 1305M400 865C652.5 944.5 839.4 1130 905 1395"/>
<path class="ns" stroke="#d8413b" stroke-width="4.5" d="M595 520C1105 524.5 1241 610 1275 745M300 1045C810 1049.5 946 1135 980 1270"/>
<path class="ns" stroke="#1b1b1b" stroke-width="4.5" d="M235 1400V95M228 1398H1425"/>
<polygon points="235,25 222,95 248,95" fill="#1b1b1b"/>
<polygon points="1490,1398 1420,1381 1420,1415" fill="#1b1b1b"/>
<path class="ns" stroke="#1b1b1b" stroke-width="2" d="M222 165H235M222 243H235M222 290H235M222 345H235M222 408H235M222 487H235M222 545H235M222 590H235M222 665H235M222 727H235M222 766H235M222 805H235M222 855H235M222 910H235M222 970H235M222 1047H235M222 1095H235M222 1150H235M222 1212H235M222 1288H235M222 1350H235"/>
<g font-size="18">
<text class="yt" transform="translate(210 165) scale(2.8 2.45)" y="6">10000</text>
<text class="yt" transform="translate(210 243) scale(2.8 2.45)" y="6">8000</text>
<text class="yt" transform="translate(210 290) scale(2.8 2.45)" y="6">7000</text>
<text class="yt" transform="translate(210 345) scale(2.8 2.45)" y="6">6000</text>
<text class="yt" transform="translate(210 408) scale(2.8 2.45)" y="6">5000</text>
<text class="yt" transform="translate(210 487) scale(2.8 2.45)" y="6">4000</text>
<text class="yt" transform="translate(210 545) scale(2.8 2.45)" y="6">3400</text>
<text class="yt" transform="translate(210 590) scale(2.8 2.45)" y="6">3000</text>
<text class="yt" transform="translate(210 665) scale(2.8 2.45)" y="6">2400</text>
<text class="yt" transform="translate(210 727) scale(2.8 2.45)" y="6">2000</text>
<text class="yt" transform="translate(210 766) scale(2.8 2.45)" y="6">1800</text>
<text class="yt" transform="translate(210 805) scale(2.8 2.45)" y="6">1600</text>
<text class="yt" transform="translate(210 855) scale(2.8 2.45)" y="6">1400</text>
<text class="yt" transform="translate(210 910) scale(2.8 2.45)" y="6">1200</text>
<text class="yt" transform="translate(210 970) scale(2.8 2.45)" y="6">1000</text>
<text class="yt" transform="translate(210 1047) scale(2.8 2.45)" y="6">800</text>
<text class="yt" transform="translate(210 1095) scale(2.8 2.45)" y="6">700</text>
<text class="yt" transform="translate(210 1150) scale(2.8 2.45)" y="6">600</text>
<text class="yt" transform="translate(210 1212) scale(2.8 2.45)" y="6">500</text>
<text class="yt" transform="translate(210 1288) scale(2.8 2.45)" y="6">400</text>
<text class="yt" transform="translate(210 1350) scale(2.8 2.45)" y="6">340</text>
<text class="xt" transform="translate(250 1435) scale(2.8 2.45)" y="6">1,3</text>
<text class="xt" transform="translate(340 1435) scale(2.8 2.45)" y="6">1,5</text>
<text class="xt" transform="translate(440 1435) scale(2.8 2.45)" y="6">2</text>
<text class="xt" transform="translate(527 1435) scale(2.8 2.45)" y="6">2,5</text>
<text class="xt" transform="translate(605 1435) scale(2.8 2.45)" y="6">3</text>
<text class="xt" transform="translate(713 1435) scale(2.8 2.45)" y="6">4</text>
<text class="xt" transform="translate(805 1435) scale(2.8 2.45)" y="6">5</text>
<text class="xt" transform="translate(880 1435) scale(2.8 2.45)" y="6">6</text>
<text class="xt" transform="translate(993 1435) scale(2.8 2.45)" y="6">8</text>
<text class="xt" transform="translate(1080 1435) scale(2.8 2.45)" y="6">10</text>
<text class="xt" transform="translate(1160 1435) scale(2.8 2.45)" y="6">12</text>
<text class="xt" transform="translate(1250 1435) scale(2.8 2.45)" y="6">15</text>
<text class="xt" transform="translate(1375 1435) scale(2.8 2.45)" y="6">20</text>
</g>
<g font-size="16">
<text class="gn" transform="translate(796 125) scale(2.8 2.45) rotate(-62)">0,454</text>
<text class="gn" transform="translate(951 185) scale(2.8 2.45) rotate(-62)">0,565</text>
<text class="gn" transform="translate(1016 225) scale(2.8 2.45) rotate(-62)">0,599</text>
<text class="gn" transform="translate(1066 280) scale(2.8 2.45) rotate(-62)">0,605</text>
<text class="gn" transform="translate(1116 330) scale(2.8 2.45) rotate(-62)">n=0,608</text>
<text class="gn" transform="translate(1156 330) scale(2.8 2.45) rotate(-62)">0,594</text>
<text class="gn" transform="translate(1186 370) scale(2.8 2.45) rotate(-62)">0,573</text>
<text class="gn" transform="translate(1216 400) scale(2.8 2.45) rotate(-62)">0,554</text>
<text class="gn" transform="translate(1241 440) scale(2.8 2.45) rotate(-62)">0,527</text>
<text class="gn" transform="translate(1296 430) scale(2.8 2.45) rotate(-62)">0,497</text>
<text class="gn" transform="translate(1281 540) scale(2.8 2.45) rotate(-62)">0,443</text>
<text class="gn" transform="translate(1336 535) scale(2.8 2.45) rotate(-62)">0,403</text>
<text class="gn" transform="translate(1366 590) scale(2.8 2.45) rotate(-62)">0,354</text>
</g>
<g font-size="19">
<text class="bu" transform="translate(780 155) scale(2.8 2.45)" y="7">30</text>
<text class="bu" transform="translate(748 230) scale(2.8 2.45)" y="7">22</text>
<text class="bu" transform="translate(728 270) scale(2.8 2.45)" y="7">18,5</text>
<text class="bu" transform="translate(690 318) scale(2.8 2.45)" y="7">15</text>
<text class="bu" transform="translate(478 692) scale(2.8 2.45)" y="7">3</text>
<text class="bu" transform="translate(438 768) scale(2.8 2.45)" y="7">2,2</text>
<text class="bu" transform="translate(398 845) scale(2.8 2.45)" y="7">N=1,5</text>
<text class="rd" text-anchor="middle" transform="translate(722 512) scale(2.8 2.45)" y="7">2940</text>
<text class="rd" text-anchor="middle" transform="translate(405 1022) scale(2.8 2.45)" y="7">n=1395</text>
<text class="rd" transform="translate(1298 740) scale(2.8 2.45)" y="7">73,1</text>
<text class="rd" transform="translate(995 1278) scale(2.8 2.45)" y="7">U=34,7</text>
</g>
<text class="ax" font-size="21" transform="translate(25 75) scale(2.8 2.45)" y="8">P<tspan font-size="60%" dy="4">v</tspan><tspan dy="-4">, Па</tspan></text>
<text font-size="25" font-weight="bold" transform="translate(1055 65) scale(2.8 2.45)" y="9" textLength="125" lengthAdjust="spacingAndGlyphs">D=0,95Dн</text>
<text class="ax" font-size="19" transform="translate(1055 1488) scale(2.8 2.45)" y="7" textLength="134" lengthAdjust="spacingAndGlyphs">Q, 10³·м³/год</text>
</g>

<!-- ============ CHART R3 D=Dн ============ -->
<rect x="1204" y="1953" width="422" height="523" fill="url(#gR)"/>
<text transform="translate(1255 2340) rotate(-42)" font-size="62" font-weight="bold" fill="#c8c8c8" fill-opacity=".6" textLength="360" lengthAdjust="spacingAndGlyphs">ukrvent.ua</text>
<g transform="translate(1281 2014) scale(.572 .623)">
<ellipse rx="92" ry="53" fill="#fff" stroke="#2b3e8e" stroke-width="6"/>
<ellipse rx="80" ry="42" fill="none" stroke="#2b3e8e" stroke-width="1.5"/>
<text font-size="14" fill="#2b3e8e" font-weight="bold"><textPath href="#stTop" startOffset="50%" text-anchor="middle">Вентилятор ВРПВ105-50-5</textPath></text>
<path d="M-62 -6h20l12-9v30l-12-9h-20z" fill="#2b3e8e"/>
<rect x="-30" y="-20" width="46" height="40" rx="6" fill="#fff" stroke="#2b3e8e" stroke-width="4"/>
<rect x="-20" y="-20" width="5" height="40" fill="#2b3e8e"/><rect x="-5" y="-20" width="5" height="40" fill="#2b3e8e"/><rect x="8" y="-20" width="5" height="40" fill="#2b3e8e"/>
<rect x="20" y="-12" width="26" height="22" fill="#fff" stroke="#2b3e8e" stroke-width="4"/>
<path d="M-50 28 Q0 48 50 28 L48 40 Q0 60 -48 40Z" fill="#2b3e8e"/>
<text font-size="10" fill="#fff" font-weight="bold"><textPath href="#stBot" startOffset="50%" text-anchor="middle">УКРВЕНТСИСТЕМИ</textPath></text>
</g>
<g transform="translate(1120 1900) scale(.7015 .4082)">
<path class="ns" stroke="#c6c6c6" stroke-width="1" d="M132 130V1410M182 130V1410M240 130V1410M287 130V1410M328 130V1410M385 130V1410M432 130V1410M472 130V1410M532 130V1410M578 130V1410M620 130V1410M668 130V1410M120 230H722M120 310H722M120 355H722M120 410H722M120 478H722M120 557H722M120 620H722M120 663H722M120 742H722M120 806H722M120 847H722M120 888H722M120 938H722M120 995H722M120 1058H722M120 1138H722M120 1185H722M120 1240H722M120 1305H722M120 1387H722"/>
<path class="ns" stroke="#4c9c4c" stroke-width="1.6" d="M150 1175L445 135M210 1225L505 195M245 1268L545 240M272 1300L575 290M320 1380L615 360M350 1395L640 385M385 1400L655 450M420 1400L670 520M450 1400L685 570M485 1400L700 640M515 1400L710 700"/>
<path class="ns" stroke="#4a9e4a" stroke-width="5.5" d="M302 1350L610 290"/>
<path class="ns" stroke="#34468a" stroke-width="4.5" d="M430 205C564 286 663.2 475 698 745M408 280C544 363 644.6 557.5 680 835M398 320C530 403.7 627.7 599 662 878M268 762C401.5 844.5 500.3 1037 535 1312"/>
<path class="ns" stroke="#d8413b" stroke-width="6" d="M332 543C600.5 547.7 672.1 637.8 690 780M175 1082C445 1086.8 517 1177.2 535 1320"/>
<path class="ns" stroke="#1b1b1b" stroke-width="4.5" d="M115 1425V120M110 1420H770"/>
<polygon points="115,50 108.5,120 121.5,120" fill="#1b1b1b"/>
<polygon points="805,1420 770,1403 770,1437" fill="#1b1b1b"/>
<path class="ns" stroke="#1b1b1b" stroke-width="2" d="M108 230H115M108 310H115M108 355H115M108 410H115M108 478H115M108 557H115M108 620H115M108 663H115M108 742H115M108 806H115M108 847H115M108 888H115M108 938H115M108 995H115M108 1058H115M108 1138H115M108 1185H115M108 1240H115M108 1305H115M108 1387H115"/>
<g font-size="18">
<text class="yt" transform="translate(105 230) scale(1.4255 2.45)" y="6">10000</text>
<text class="yt" transform="translate(105 310) scale(1.4255 2.45)" y="6">8000</text>
<text class="yt" transform="translate(105 355) scale(1.4255 2.45)" y="6">7000</text>
<text class="yt" transform="translate(105 410) scale(1.4255 2.45)" y="6">6000</text>
<text class="yt" transform="translate(105 478) scale(1.4255 2.45)" y="6">5000</text>
<text class="yt" transform="translate(105 557) scale(1.4255 2.45)" y="6">4000</text>
<text class="yt" transform="translate(105 620) scale(1.4255 2.45)" y="6">3400</text>
<text class="yt" transform="translate(105 663) scale(1.4255 2.45)" y="6">3000</text>
<text class="yt" transform="translate(105 742) scale(1.4255 2.45)" y="6">2400</text>
<text class="yt" transform="translate(105 806) scale(1.4255 2.45)" y="6">2000</text>
<text class="yt" transform="translate(105 847) scale(1.4255 2.45)" y="6">1800</text>
<text class="yt" transform="translate(105 888) scale(1.4255 2.45)" y="6">1600</text>
<text class="yt" transform="translate(105 938) scale(1.4255 2.45)" y="6">1400</text>
<text class="yt" transform="translate(105 995) scale(1.4255 2.45)" y="6">1200</text>
<text class="yt" transform="translate(105 1058) scale(1.4255 2.45)" y="6">1000</text>
<text class="yt" transform="translate(105 1138) scale(1.4255 2.45)" y="6">800</text>
<text class="yt" transform="translate(105 1185) scale(1.4255 2.45)" y="6">700</text>
<text class="yt" transform="translate(105 1240) scale(1.4255 2.45)" y="6">600</text>
<text class="yt" transform="translate(105 1305) scale(1.4255 2.45)" y="6">500</text>
<text class="yt" transform="translate(105 1387) scale(1.4255 2.45)" y="6">400</text>
<text class="xt" transform="translate(132 1462) scale(1.4255 2.45)" y="6">1,2</text>
<text class="xt" transform="translate(182 1462) scale(1.4255 2.45)" y="6">1,5</text>
<text class="xt" transform="translate(240 1462) scale(1.4255 2.45)" y="6">2</text>
<text class="xt" transform="translate(287 1462) scale(1.4255 2.45)" y="6">2,5</text>
<text class="xt" transform="translate(328 1462) scale(1.4255 2.45)" y="6">3</text>
<text class="xt" transform="translate(385 1462) scale(1.4255 2.45)" y="6">4</text>
<text class="xt" transform="translate(432 1462) scale(1.4255 2.45)" y="6">5</text>
<text class="xt" transform="translate(472 1462) scale(1.4255 2.45)" y="6">6</text>
<text class="xt" transform="translate(532 1462) scale(1.4255 2.45)" y="6">8</text>
<text class="xt" transform="translate(578 1462) scale(1.4255 2.45)" y="6">10</text>
<text class="xt" transform="translate(620 1462) scale(1.4255 2.45)" y="6">12</text>
<text class="xt" transform="translate(668 1462) scale(1.4255 2.45)" y="6">15</text>
<text class="xt" transform="translate(733 1462) scale(1.4255 2.45)" y="6">20</text>
</g>
<g font-size="16">
<text class="gn" transform="translate(448 125) scale(1.4255 2.45) rotate(-62)">0,476</text>
<text class="gn" transform="translate(508 185) scale(1.4255 2.45) rotate(-62)">0,560</text>
<text class="gn" transform="translate(548 230) scale(1.4255 2.45) rotate(-62)">0,601</text>
<text class="gn" transform="translate(578 280) scale(1.4255 2.45) rotate(-62)">0,616</text>
<text class="gn" transform="translate(590 335) scale(1.4255 2.45) rotate(-62)">n=0,624</text>
<text class="gn" transform="translate(618 350) scale(1.4255 2.45) rotate(-62)">0,618</text>
<text class="gn" transform="translate(643 375) scale(1.4255 2.45) rotate(-62)">0,6</text>
<text class="gn" transform="translate(658 440) scale(1.4255 2.45) rotate(-62)">0,576</text>
<text class="gn" transform="translate(673 510) scale(1.4255 2.45) rotate(-62)">0,537</text>
<text class="gn" transform="translate(688 560) scale(1.4255 2.45) rotate(-62)">0,486</text>
<text class="gn" transform="translate(703 630) scale(1.4255 2.45) rotate(-62)">0,428</text>
<text class="gn" transform="translate(713 690) scale(1.4255 2.45) rotate(-62)">0,367</text>
</g>
<g font-size="19">
<text class="bu" transform="translate(425 192) scale(1.4255 2.45)" y="7">30</text>
<text class="bu" transform="translate(402 262) scale(1.4255 2.45)" y="7">22</text>
<text class="bu" transform="translate(393 312) scale(1.4255 2.45)" y="7">18,5</text>
<text class="bu" transform="translate(265 742) scale(1.4255 2.45)" y="7">N=3</text>
<text class="rd" text-anchor="middle" transform="translate(468 540) scale(1.4255 2.45)" y="7">2940</text>
<text class="rd" text-anchor="middle" transform="translate(318 1080) scale(1.4255 2.45)" y="7">n=1395</text>
<text class="rd" transform="translate(702 795) scale(1.4255 2.45)" y="7">77</text>
<text class="rd" transform="translate(542 1330) scale(1.4255 2.45)" y="7">U=36,5</text>
</g>
<text class="ax" font-size="21" transform="translate(15 90) scale(1.4255 2.45)" y="8">P<tspan font-size="60%" dy="4">v</tspan><tspan dy="-4">, Па</tspan></text>
<text font-size="25" font-weight="bold" transform="translate(605 68) scale(1.4255 2.45)" y="9" textLength="72" lengthAdjust="spacingAndGlyphs">D=Dн</text>
<text class="ax" font-size="19" transform="translate(588 1512) scale(1.4255 2.45)" y="7" textLength="135" lengthAdjust="spacingAndGlyphs">Q, 10³·м³/год</text>

<!-- ============ CHART R4 D=1,05 ============ -->
<path class="ns" stroke="#c6c6c6" stroke-width="1" d="M912 115V1410M962 115V1410M1003 115V1410M1060 115V1410M1107 115V1410M1152 115V1410M1210 115V1410M1257 115V1410M1302 115V1410M1350 115V1410M1405 115V1410M1455 115V1410M895 192H1475M895 258H1475M895 338H1475M895 387H1475M895 443H1475M895 510H1475M895 590H1475M895 655H1475M895 697H1475M895 780H1475M895 842H1475M895 882H1475M895 925H1475M895 975H1475M895 1033H1475M895 1097H1475M895 1182H1475M895 1227H1475M895 1283H1475M895 1350H1475"/>
</g>
<rect x="1748" y="1947" width="407" height="529" fill="url(#gR)" fill-opacity=".9"/>
<text transform="translate(1835 2330) rotate(-42)" font-size="62" font-weight="bold" fill="#c8c8c8" fill-opacity=".6" textLength="360" lengthAdjust="spacingAndGlyphs">ukrvent.ua</text>
<g transform="translate(1811 2009) scale(.572 .632)">
<ellipse rx="92" ry="53" fill="#fff" stroke="#2b3e8e" stroke-width="6"/>
<ellipse rx="80" ry="42" fill="none" stroke="#2b3e8e" stroke-width="1.5"/>
<text font-size="14" fill="#2b3e8e" font-weight="bold"><textPath href="#stTop" startOffset="50%" text-anchor="middle">Вентилятор ВРПВ105-50-5</textPath></text>
<path d="M-62 -6h20l12-9v30l-12-9h-20z" fill="#2b3e8e"/>
<rect x="-30" y="-20" width="46" height="40" rx="6" fill="#fff" stroke="#2b3e8e" stroke-width="4"/>
<rect x="-20" y="-20" width="5" height="40" fill="#2b3e8e"/><rect x="-5" y="-20" width="5" height="40" fill="#2b3e8e"/><rect x="8" y="-20" width="5" height="40" fill="#2b3e8e"/>
<rect x="20" y="-12" width="26" height="22" fill="#fff" stroke="#2b3e8e" stroke-width="4"/>
<path d="M-50 28 Q0 48 50 28 L48 40 Q0 60 -48 40Z" fill="#2b3e8e"/>
<text font-size="10" fill="#fff" font-weight="bold"><textPath href="#stBot" startOffset="50%" text-anchor="middle">УКРВЕНТСИСТЕМИ</textPath></text>
</g>
<g transform="translate(1120 1900) scale(.7015 .4082)">
<path class="ns" stroke="#4c9c4c" stroke-width="1.6" d="M912 1185L1185 185M965 1238L1235 245M990 1280L1262 280M1040 1360L1305 380M1065 1410L1330 440M1100 1410L1360 470M1135 1410L1375 530M1165 1410L1390 590M1200 1410L1410 640M1235 1410L1420 735"/>
<path class="ns" stroke="#4a9e4a" stroke-width="5.5" d="M1015 1325L1300 300"/>
<path class="ns" stroke="#34468a" stroke-width="4.5" d="M1185 248C1286.5 324.8 1361.6 504 1388 760M1168 298C1270 374.8 1345.5 554 1372 810M1148 372C1250 449 1325.5 628.5 1352 885M1025 790C1127.5 867 1203.4 1047.5 1230 1305M1005 858C1107.5 934.8 1183.4 1114 1210 1370"/>
<path class="ns" stroke="#d8413b" stroke-width="6" d="M1095 550C1310 554.7 1367.6 644 1382 785M940 1082C1156 1086.8 1213.6 1177.2 1228 1320"/>
<path class="ns" stroke="#1b1b1b" stroke-width="4.5" d="M890 1423V100M885 1418H1480"/>
<polygon points="890,30 883.5,100 896.5,100" fill="#1b1b1b"/>
<polygon points="1512,1418 1477,1401 1477,1435" fill="#1b1b1b"/>
<path class="ns" stroke="#1b1b1b" stroke-width="2" d="M883 192H890M883 258H890M883 338H890M883 387H890M883 443H890M883 510H890M883 590H890M883 655H890M883 697H890M883 780H890M883 842H890M883 882H890M883 925H890M883 975H890M883 1033H890M883 1097H890M883 1182H890M883 1227H890M883 1283H890M883 1350H890"/>
<g font-size="18">
<text class="yt" transform="translate(880 192) scale(1.4255 2.45)" y="6">12000</text>
<text class="yt" transform="translate(880 258) scale(1.4255 2.45)" y="6">10000</text>
<text class="yt" transform="translate(880 338) scale(1.4255 2.45)" y="6">8000</text>
<text class="yt" transform="translate(880 387) scale(1.4255 2.45)" y="6">7000</text>
<text class="yt" transform="translate(880 443) scale(1.4255 2.45)" y="6">6000</text>
<text class="yt" transform="translate(880 510) scale(1.4255 2.45)" y="6">5000</text>
<text class="yt" transform="translate(880 590) scale(1.4255 2.45)" y="6">4000</text>
<text class="yt" transform="translate(880 655) scale(1.4255 2.45)" y="6">3400</text>
<text class="yt" transform="translate(880 697) scale(1.4255 2.45)" y="6">3000</text>
<text class="yt" transform="translate(880 780) scale(1.4255 2.45)" y="6">2400</text>
<text class="yt" transform="translate(880 842) scale(1.4255 2.45)" y="6">2000</text>
<text class="yt" transform="translate(880 882) scale(1.4255 2.45)" y="6">1800</text>
<text class="yt" transform="translate(880 925) scale(1.4255 2.45)" y="6">1600</text>
<text class="yt" transform="translate(880 975) scale(1.4255 2.45)" y="6">1400</text>
<text class="yt" transform="translate(880 1033) scale(1.4255 2.45)" y="6">1200</text>
<text class="yt" transform="translate(880 1097) scale(1.4255 2.45)" y="6">1000</text>
<text class="yt" transform="translate(880 1182) scale(1.4255 2.45)" y="6">800</text>
<text class="yt" transform="translate(880 1227) scale(1.4255 2.45)" y="6">700</text>
<text class="yt" transform="translate(880 1283) scale(1.4255 2.45)" y="6">600</text>
<text class="yt" transform="translate(880 1350) scale(1.4255 2.45)" y="6">500</text>
<text class="xt" transform="translate(912 1455) scale(1.4255 2.45)" y="6">2</text>
<text class="xt" transform="translate(962 1455) scale(1.4255 2.45)" y="6">2,5</text>
<text class="xt" transform="translate(1003 1455) scale(1.4255 2.45)" y="6">3</text>
<text class="xt" transform="translate(1060 1455) scale(1.4255 2.45)" y="6">4</text>
<text class="xt" transform="translate(1107 1455) scale(1.4255 2.45)" y="6">5</text>
<text class="xt" transform="translate(1152 1455) scale(1.4255 2.45)" y="6">6</text>
<text class="xt" transform="translate(1210 1455) scale(1.4255 2.45)" y="6">8</text>
<text class="xt" transform="translate(1257 1455) scale(1.4255 2.45)" y="6">10</text>
<text class="xt" transform="translate(1302 1455) scale(1.4255 2.45)" y="6">12</text>
<text class="xt" transform="translate(1350 1455) scale(1.4255 2.45)" y="6">15</text>
<text class="xt" transform="translate(1405 1455) scale(1.4255 2.45)" y="6">20</text>
<text class="xt" transform="translate(1455 1455) scale(1.4255 2.45)" y="6">25</text>
</g>
<g font-size="16">
<text class="gn" transform="translate(1188 175) scale(1.4255 2.45) rotate(-62)">0,551</text>
<text class="gn" transform="translate(1238 235) scale(1.4255 2.45) rotate(-62)">0,597</text>
<text class="gn" transform="translate(1265 270) scale(1.4255 2.45) rotate(-62)">0,615</text>
<text class="gn" transform="translate(1280 340) scale(1.4255 2.45) rotate(-62)">n=0,618</text>
<text class="gn" transform="translate(1308 370) scale(1.4255 2.45) rotate(-62)">0,611</text>
<text class="gn" transform="translate(1333 430) scale(1.4255 2.45) rotate(-62)">0,585</text>
<text class="gn" transform="translate(1363 460) scale(1.4255 2.45) rotate(-62)">0,545</text>
<text class="gn" transform="translate(1378 520) scale(1.4255 2.45) rotate(-62)">0,504</text>
<text class="gn" transform="translate(1393 580) scale(1.4255 2.45) rotate(-62)">0,456</text>
<text class="gn" transform="translate(1413 630) scale(1.4255 2.45) rotate(-62)">0,401</text>
<text class="gn" transform="translate(1423 725) scale(1.4255 2.45) rotate(-62)">0,361</text>
</g>
<g font-size="19">
<text class="bu" transform="translate(1180 228) scale(1.4255 2.45)" y="7">37</text>
<text class="bu" transform="translate(1165 282) scale(1.4255 2.45)" y="7">30</text>
<text class="bu" transform="translate(1140 355) scale(1.4255 2.45)" y="7">22</text>
<text class="bu" transform="translate(1020 770) scale(1.4255 2.45)" y="7">4</text>
<text class="bu" transform="translate(998 848) scale(1.4255 2.45)" y="7">N=3</text>
<text class="rd" text-anchor="middle" transform="translate(1175 545) scale(1.4255 2.45)" y="7">2950</text>
<text class="rd" text-anchor="middle" transform="translate(1025 1082) scale(1.4255 2.45)" y="7">n=1425</text>
<text class="rd" transform="translate(1388 798) scale(1.4255 2.45)" y="7">81,1</text>
<text class="rd" transform="translate(1232 1345) scale(1.4255 2.45)" y="7">U=39,2</text>
</g>
<text class="ax" font-size="21" transform="translate(785 80) scale(1.4255 2.45)" y="8">P<tspan font-size="60%" dy="4">v</tspan><tspan dy="-4">, Па</tspan></text>
<text font-size="25" font-weight="bold" transform="translate(1298 72) scale(1.4255 2.45)" y="9" textLength="124" lengthAdjust="spacingAndGlyphs">D=1,05Dн</text>
<text class="ax" font-size="19" transform="translate(1312 1510) scale(1.4255 2.45)" y="7" textLength="135" lengthAdjust="spacingAndGlyphs">Q, 10³·м³/год</text>
</g>

<!-- ============ CHART R5 D=1,10 ============ -->
<rect x="1512" y="2567" width="410" height="527" fill="url(#gR)"/>
<text transform="translate(1560 2945) rotate(-40)" font-size="62" font-weight="bold" fill="#c8c8c8" fill-opacity=".6" textLength="360" lengthAdjust="spacingAndGlyphs">ukrvent.ua</text>
<g transform="translate(1581 2619) scale(.573 .623)">
<ellipse rx="92" ry="53" fill="#fff" stroke="#2b3e8e" stroke-width="6"/>
<ellipse rx="80" ry="42" fill="none" stroke="#2b3e8e" stroke-width="1.5"/>
<text font-size="14" fill="#2b3e8e" font-weight="bold"><textPath href="#stTop" startOffset="50%" text-anchor="middle">Вентилятор ВРПВ105-50-5</textPath></text>
<path d="M-62 -6h20l12-9v30l-12-9h-20z" fill="#2b3e8e"/>
<rect x="-30" y="-20" width="46" height="40" rx="6" fill="#fff" stroke="#2b3e8e" stroke-width="4"/>
<rect x="-20" y="-20" width="5" height="40" fill="#2b3e8e"/><rect x="-5" y="-20" width="5" height="40" fill="#2b3e8e"/><rect x="8" y="-20" width="5" height="40" fill="#2b3e8e"/>
<rect x="20" y="-12" width="26" height="22" fill="#fff" stroke="#2b3e8e" stroke-width="4"/>
<path d="M-50 28 Q0 48 50 28 L48 40 Q0 60 -48 40Z" fill="#2b3e8e"/>
<text font-size="10" fill="#fff" font-weight="bold"><textPath href="#stBot" startOffset="50%" text-anchor="middle">УКРВЕНТСИСТЕМИ</textPath></text>
</g>
<g transform="translate(1420 2530) scale(.3571 .4145)">
<path class="ns" stroke="#c6c6c6" stroke-width="1" d="M295 90V1360M390 90V1360M470 90V1360M588 90V1360M678 90V1360M760 90V1360M880 90V1360M970 90V1360M1048 90V1360M1158 90V1360M1275 90V1360M1370 90V1360M258 120H1405M258 178H1405M258 240H1405M258 320H1405M258 368H1405M258 425H1405M258 490H1405M258 572H1405M258 635H1405M258 678H1405M258 757H1405M258 822H1405M258 862H1405M258 905H1405M258 953H1405M258 1008H1405M258 1073H1405M258 1155H1405M258 1202H1405M258 1257H1405M258 1323H1405"/>
<path class="ns" stroke="#4c9c4c" stroke-width="1.6" d="M318 1068L840 135M428 1120L935 215M490 1165L1000 255M568 1235L1080 330M615 1290L1140 360M660 1345L1170 430M705 1365L1200 480M750 1365L1215 545M830 1365L1265 600M870 1365L1290 640"/>
<path class="ns" stroke="#4a9e4a" stroke-width="5.5" d="M530 1200L1068 268"/>
<path class="ns" stroke="#34468a" stroke-width="4.5" d="M812 212C1026 289 1184.4 468.5 1240 725M780 265C992.5 341.5 1149.75 520 1205 775M738 342C951.5 418 1109.5 596 1165 850M500 750C714 826.8 872.4 1006 928 1262M460 822C672.5 898 829.75 1076 885 1330"/>
<path class="ns" stroke="#d8413b" stroke-width="5.5" d="M650 490C1083.5 495 1199 590 1228 740M345 1020C777.75 1025 893.15 1120 922 1270"/>
<path class="ns" stroke="#1b1b1b" stroke-width="4.5" d="M250 1370V75M245 1365H1430"/>
<polygon points="250,10 237,75 263,75" fill="#1b1b1b"/>
<polygon points="1500,1365 1430,1348 1430,1382" fill="#1b1b1b"/>
<path class="ns" stroke="#1b1b1b" stroke-width="2" d="M237 120H250M237 178H250M237 240H250M237 320H250M237 368H250M237 425H250M237 490H250M237 572H250M237 635H250M237 678H250M237 757H250M237 822H250M237 862H250M237 905H250M237 953H250M237 1008H250M237 1073H250M237 1155H250M237 1202H250M237 1257H250M237 1323H250"/>
<g font-size="18">
<text class="yt" transform="translate(232 120) scale(2.8 2.4125)" y="6">14000</text>
<text class="yt" transform="translate(232 178) scale(2.8 2.4125)" y="6">12000</text>
<text class="yt" transform="translate(232 240) scale(2.8 2.4125)" y="6">10000</text>
<text class="yt" transform="translate(232 320) scale(2.8 2.4125)" y="6">8000</text>
<text class="yt" transform="translate(232 368) scale(2.8 2.4125)" y="6">7000</text>
<text class="yt" transform="translate(232 425) scale(2.8 2.4125)" y="6">6000</text>
<text class="yt" transform="translate(232 490) scale(2.8 2.4125)" y="6">5000</text>
<text class="yt" transform="translate(232 572) scale(2.8 2.4125)" y="6">4000</text>
<text class="yt" transform="translate(232 635) scale(2.8 2.4125)" y="6">3400</text>
<text class="yt" transform="translate(232 678) scale(2.8 2.4125)" y="6">3000</text>
<text class="yt" transform="translate(232 757) scale(2.8 2.4125)" y="6">2400</text>
<text class="yt" transform="translate(232 822) scale(2.8 2.4125)" y="6">2000</text>
<text class="yt" transform="translate(232 862) scale(2.8 2.4125)" y="6">1800</text>
<text class="yt" transform="translate(232 905) scale(2.8 2.4125)" y="6">1600</text>
<text class="yt" transform="translate(232 953) scale(2.8 2.4125)" y="6">1400</text>
<text class="yt" transform="translate(232 1008) scale(2.8 2.4125)" y="6">1200</text>
<text class="yt" transform="translate(232 1073) scale(2.8 2.4125)" y="6">1000</text>
<text class="yt" transform="translate(232 1155) scale(2.8 2.4125)" y="6">800</text>
<text class="yt" transform="translate(232 1202) scale(2.8 2.4125)" y="6">700</text>
<text class="yt" transform="translate(232 1257) scale(2.8 2.4125)" y="6">600</text>
<text class="yt" transform="translate(232 1323) scale(2.8 2.4125)" y="6">500</text>
<text class="xt" transform="translate(295 1402) scale(2.8 2.4125)" y="6">2</text>
<text class="xt" transform="translate(390 1402) scale(2.8 2.4125)" y="6">2,5</text>
<text class="xt" transform="translate(470 1402) scale(2.8 2.4125)" y="6">3</text>
<text class="xt" transform="translate(588 1402) scale(2.8 2.4125)" y="6">4</text>
<text class="xt" transform="translate(678 1402) scale(2.8 2.4125)" y="6">5</text>
<text class="xt" transform="translate(760 1402) scale(2.8 2.4125)" y="6">6</text>
<text class="xt" transform="translate(880 1402) scale(2.8 2.4125)" y="6">8</text>
<text class="xt" transform="translate(970 1402) scale(2.8 2.4125)" y="6">10</text>
<text class="xt" transform="translate(1048 1402) scale(2.8 2.4125)" y="6">12</text>
<text class="xt" transform="translate(1158 1402) scale(2.8 2.4125)" y="6">15</text>
<text class="xt" transform="translate(1275 1402) scale(2.8 2.4125)" y="6">20</text>
<text class="xt" transform="translate(1370 1402) scale(2.8 2.4125)" y="6">25</text>
</g>
<g font-size="16">
<text class="gn" transform="translate(846 125) scale(2.8 2.4125) rotate(-62)">0,543</text>
<text class="gn" transform="translate(941 205) scale(2.8 2.4125) rotate(-62)">0,608</text>
<text class="gn" transform="translate(1006 245) scale(2.8 2.4125) rotate(-62)">0,629</text>
<text class="gn" transform="translate(1050 330) scale(2.8 2.4125) rotate(-62)">n=0,636</text>
<text class="gn" transform="translate(1086 320) scale(2.8 2.4125) rotate(-62)">0,627</text>
<text class="gn" transform="translate(1146 350) scale(2.8 2.4125) rotate(-62)">0,596</text>
<text class="gn" transform="translate(1176 420) scale(2.8 2.4125) rotate(-62)">0,558</text>
<text class="gn" transform="translate(1206 470) scale(2.8 2.4125) rotate(-62)">0,518</text>
<text class="gn" transform="translate(1221 535) scale(2.8 2.4125) rotate(-62)">0,448</text>
<text class="gn" transform="translate(1271 590) scale(2.8 2.4125) rotate(-62)">0,403</text>
<text class="gn" transform="translate(1296 630) scale(2.8 2.4125) rotate(-62)">0,366</text>
</g>
<g font-size="19">
<text class="bu" transform="translate(805 195) scale(2.8 2.4125)" y="7">37</text>
<text class="bu" transform="translate(775 250) scale(2.8 2.4125)" y="7">30</text>
<text class="bu" transform="translate(730 322) scale(2.8 2.4125)" y="7">22</text>
<text class="bu" transform="translate(495 738) scale(2.8 2.4125)" y="7">4</text>
<text class="bu" transform="translate(440 802) scale(2.8 2.4125)" y="7">N=3</text>
<text class="rd" text-anchor="middle" transform="translate(820 478) scale(2.8 2.4125)" y="7">2950</text>
<text class="rd" text-anchor="middle" transform="translate(525 1012) scale(2.8 2.4125)" y="7">n=1425</text>
<text class="rd" transform="translate(1238 762) scale(2.8 2.4125)" y="7">85</text>
<text class="rd" transform="translate(930 1282) scale(2.8 2.4125)" y="7">U=41</text>
</g>
<text class="ax" font-size="21" transform="translate(58 55) scale(2.8 2.4125)" y="8">P<tspan font-size="60%" dy="4">v</tspan><tspan dy="-4">, Па</tspan></text>
<text font-size="25" font-weight="bold" transform="translate(1075 40) scale(2.8 2.4125)" y="9" textLength="123" lengthAdjust="spacingAndGlyphs">D=1,10Dн</text>
<text class="ax" font-size="19" transform="translate(1140 1450) scale(2.8 2.4125)" y="7" textLength="134" lengthAdjust="spacingAndGlyphs">Q, 10³·м³/год</text>
</g>

<!-- LEGEND -->
<g font-size="34" fill="#111">
<text x="320" y="2574" textLength="363" lengthAdjust="spacingAndGlyphs">PV - повний тиск, Па;</text>
<text x="320" y="2632" textLength="699" lengthAdjust="spacingAndGlyphs">Q - продуктивність повітрям, тис. м<tspan font-size="60%" dy="-14">3</tspan><tspan dy="14">/год;</tspan></text>
<text x="320" y="2689" textLength="680" lengthAdjust="spacingAndGlyphs">N - споживана потужність двигуна, кВт;</text>
<text x="320" y="2745" textLength="589" lengthAdjust="spacingAndGlyphs">U-окружна швидкість колеса, м/с;</text>
<text x="320" y="2802" textLength="800" lengthAdjust="spacingAndGlyphs">n - частота обертання робочого колеса, об/хв;</text>
<text x="320" y="2859" textLength="550" lengthAdjust="spacingAndGlyphs">η-коефіцієнт корисної дії (ККД);</text>
<text x="320" y="2915" textLength="522" lengthAdjust="spacingAndGlyphs">Dн - діаметр робочого колеса.</text>
</g>

<!-- FOOTER -->
<g font-size="26" fill="#111">
<text x="159" y="3163" textLength="263" lengthAdjust="spacingAndGlyphs">УКРВЕНТСИСТЕМИ</text>
<text x="159" y="3195" textLength="193" lengthAdjust="spacingAndGlyphs">сайт:ukrvent.ua</text>
<text x="159" y="3225" textLength="325" lengthAdjust="spacingAndGlyphs">E-mail: zavod@ukrvent.ua</text>
<text x="2197" y="3163" text-anchor="end" textLength="198" lengthAdjust="spacingAndGlyphs">Відділ продажу</text>
<text x="2197" y="3195" text-anchor="end" textLength="398" lengthAdjust="spacingAndGlyphs">+38 (097) 699-14-81 - Київстар;</text>
<text x="2197" y="3225" text-anchor="end" textLength="473" lengthAdjust="spacingAndGlyphs">+38 (099) 199-69-06 - Vodofon (Viber)</text>
</g>
</svg>
</body></html>
